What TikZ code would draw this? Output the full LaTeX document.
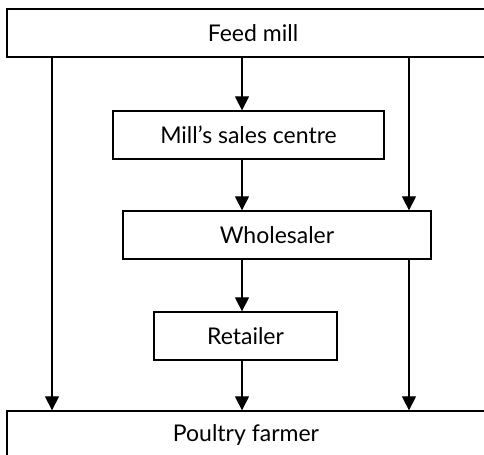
\documentclass[tikz,border=0pt]{standalone}
\usepackage{fontspec}
\setmainfont{Lato}
\usetikzlibrary{arrows.meta}

\begin{document}
\begin{tikzpicture}[x=0.5pt,y=-0.5pt,>={Triangle[length=7pt,width=7pt]},line width=0.65pt,
  stage/.style={draw,inner sep=0pt,minimum height=24pt,font=\fontsize{11.5}{13}\selectfont}]
\clip (0,0) rectangle (484,455);
\node[stage,minimum width=246pt] (feed) at (253,33) {Feed mill};
\node[stage,minimum width=135.5pt] (mill) at (248.5,135) {Mill’s sales centre};
\node[stage,minimum width=154pt] (whole) at (277,235) {Wholesaler};
\node[stage,minimum width=91.5pt] (retail) at (245.5,336) {Retailer};
\node[stage,minimum width=239pt] (farmer) at (246,435) {Poultry farmer};
% columns of the arrows
\coordinate (lft) at (52,0);
\coordinate (mid) at (242,0);
\coordinate (rgt) at (409,0);
\draw[->] (feed.south -| lft) -- (farmer.north -| lft);
\draw[->] (feed.south -| mid) -- (mill.north -| mid);
\draw[->] (feed.south -| rgt) -- (whole.north -| rgt);
\draw[->] (mill.south -| mid) -- (whole.north -| mid);
\draw[->] (whole.south -| mid) -- (retail.north -| mid);
\draw[->] (retail.south -| mid) -- (farmer.north -| mid);
\draw[->] (whole.south -| rgt) -- (farmer.north -| rgt);
\end{tikzpicture}
\end{document}
